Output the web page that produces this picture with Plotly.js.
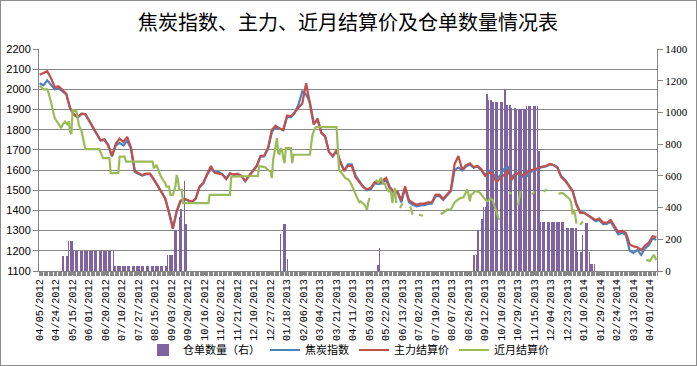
<!DOCTYPE html>
<html>
<head>
<meta charset="utf-8">
<script src="https://cdn.plot.ly/plotly-3.0.1.min.js"></script>
<style>
  html, body { margin: 0; padding: 0; background: #fff; }
  #wrap { position: relative; width: 697px; height: 366px; }
  #chart { width: 697px; height: 366px; }
  #frame { position: absolute; left: 0; top: 0; width: 695px; height: 364px; border: 1px solid #8c8c8c; pointer-events: none; }
</style>
</head>
<body>
<div id="wrap"><div id="chart"></div><div id="frame"></div></div>
<script>
// ---- Data (trading-day based category axis) ----
const chartTitle = '焦炭指数、主力、近月结算价及仓单数量情况表';
const seriesNames = ['仓单数量（右）', '焦炭指数', '主力结算价', '近月结算价'];

// x-axis labels, one every 13 trading days
const tickLabels = ['04/05/2012','04/24/2012','05/15/2012','06/01/2012','06/20/2012','07/10/2012','07/27/2012',
  '08/15/2012','09/03/2012','09/20/2012','10/16/2012','11/02/2012','11/21/2012','12/10/2012','12/27/2012',
  '01/18/2013','02/06/2013','03/04/2013','03/21/2013','04/11/2013','05/03/2013','05/22/2013','06/13/2013',
  '07/02/2013','07/19/2013','08/07/2013','08/26/2013','09/12/2013','10/10/2013','10/29/2013','11/15/2013',
  '12/04/2013','12/23/2013','01/10/2014','01/29/2014','02/24/2014','03/13/2014','04/01/2014'];
const labelEvery = 13;     // trading days between labels
const totalDays = 487;     // trading days on the axis
const sampleEvery = 3;     // price series read every 3 trading days

// 主力结算价 (every 3rd trading day)
const mainPrice = [
  2073,2082,2090,2055,2010,2015,1995,1978,1908,1876,
  1863,1880,1878,1845,1815,1782,1748,1753,1725,1670,
  1730,1756,1740,1765,1712,1595,1583,1575,1582,1582,
  1555,1525,1493,1460,1390,1310,1397,1448,1458,1452,
  1443,1460,1518,1537,1583,1620,1587,1584,1578,1555,
  1584,1578,1582,1572,1545,1572,1598,1620,1670,1672,
  1710,1800,1820,1806,1800,1870,1866,1886,1905,1930,
  2030,1930,1826,1855,1786,1768,1690,1670,1698,1640,
  1595,1622,1620,1565,1537,1515,1505,1512,1540,1538,
  1545,1562,1515,1494,1495,1450,1520,1452,1438,1428,
  1434,1434,1440,1440,1477,1478,1458,1480,1500,1630,
  1670,1601,1625,1634,1615,1620,1605,1572,1590,1582,
  1540,1562,1576,1598,1552,1580,1586,1572,1585,1600,
  1603,1612,1618,1620,1631,1625,1612,1565,1548,1522,
  1495,1428,1388,1388,1375,1365,1353,1360,1340,1340,
  1352,1322,1293,1300,1288,1232,1222,1218,1203,1226,
  1240,1272,1268];

// 焦炭指数 (every 3rd trading day)
const cokeIndex = [
  2030,2020,2045,2020,2000,2005,1990,1975,1905,1874,
  1860,1878,1876,1843,1812,1780,1746,1750,1722,1668,
  1722,1735,1722,1745,1705,1592,1580,1573,1580,1580,
  1553,1523,1491,1458,1388,1310,1395,1445,1456,1450,
  1442,1458,1515,1535,1578,1605,1590,1590,1580,1558,
  1582,1576,1580,1570,1545,1570,1596,1618,1665,1668,
  1705,1790,1815,1806,1798,1865,1862,1882,1925,1990,
  1975,1935,1830,1850,1784,1765,1690,1668,1695,1640,
  1598,1628,1628,1572,1542,1518,1500,1505,1535,1530,
  1535,1552,1508,1485,1488,1440,1510,1442,1428,1420,
  1425,1426,1432,1433,1470,1472,1452,1475,1495,1600,
  1612,1598,1618,1628,1612,1618,1600,1575,1598,1588,
  1555,1575,1605,1615,1565,1585,1582,1565,1570,1592,
  1600,1610,1615,1618,1628,1625,1615,1570,1552,1525,
  1498,1432,1392,1390,1375,1360,1348,1352,1332,1333,
  1345,1312,1282,1290,1278,1200,1190,1205,1180,1212,
  1228,1262,1255];

// 近月结算价: trading-day index and price (null = no quote)
const nearDays = [
  0,3,6,7,9,11,12,14,16,17,
  18,20,22,23,24,25,26,28,29,30,
  31,33,35,36,47,48,50,55,56,62,
  63,67,68,89,90,92,93,95,97,99,
  100,102,103,105,107,108,109,110,112,113,
  133,134,150,151,172,173,175,178,180,182,
  183,184,186,187,188,189,190,191,192,193,
  194,198,199,200,213,214,215,217,218,234,
  235,236,237,239,241,243,244,246,248,250,
  252,253,256,258,259,260,261,265,267,269,
  271,272,273,275,276,277,278,279,280,281,
  282,284,286,287,292,294,295,299,302,303,
  316,319,321,324,327,331,334,336,337,338,
  339,340,341,343,345,347,349,351,353,355,
  357,358,359,360,362,363,370,372,373,377,
  379,380,388,390,391,397,400,401,409,412,
  414,416,418,419,420,421,422,423,424,426,
  428,429,478,481,484,485,486];
const nearPrice = [
  2018,2000,2000,1983,1935,1870,1855,1838,1820,1808,
  1824,1840,1824,1842,1791,1778,1898,1891,1891,1860,
  1820,1795,1730,1704,1704,1690,1659,1659,1585,1585,
  1667,1667,1642,1642,1609,1626,1609,1576,1552,1535,
  1518,1518,1477,1477,1520,1576,1552,1502,1502,1436,
  1436,1477,1477,1568,1571,1618,1618,1613,1600,1593,
  1560,1651,1720,1758,1684,1680,1709,1700,1659,1634,
  1709,1709,1634,1676,1676,1734,1775,1808,1813,1813,
  1680,1600,1593,1576,1560,1555,1548,1525,1490,1465,
  1440,1445,1429,1404,1440,1462,null,1553,1537,1562,
  1529,1537,1512,1495,1500,1487,1437,1479,1512,1437,
  null,1412,1437,null,1421,1379,null,1379,1374,null,
  1382,1392,1404,1405,1440,1460,1465,1495,1504,1479,
  1445,1479,1480,1495,1495,1487,1470,1454,1445,1460,
  1450,1429,1412,1396,1354,null,1487,1485,null,1425,
  1497,null,1479,1495,null,1494,1504,null,1483,1487,
  1477,1465,1454,1436,1380,1404,1379,1335,null,1329,
  1346,null,1155,1150,1180,1163,1155];

// 仓单数量 (one value per trading day, right axis)
const receipts = [
  0,0,0,0,0,0,0,0,0,0,0,0,0,0,0,0,0,0,96,96,
  96,96,96,187,187,187,187,125,125,125,125,125,125,125,125,125,125,125,125,125,
  125,125,125,125,125,125,125,125,125,125,125,125,125,125,125,125,125,125,125,34,
  34,34,34,34,34,34,34,34,34,34,34,34,34,34,34,34,34,34,34,34,
  34,34,34,34,34,34,34,34,34,34,34,34,34,34,34,34,34,34,34,34,
  34,104,104,104,104,104,257,257,257,342,342,394,394,530,565,295,295,0,0,0,
  0,0,0,0,0,0,0,0,0,0,0,0,0,0,0,0,0,0,0,0,
  0,0,0,0,0,0,0,0,0,0,0,0,0,0,0,0,0,0,0,0,
  0,0,0,0,0,0,0,0,0,0,0,0,0,0,0,0,0,0,0,0,
  0,0,0,0,0,0,0,0,0,0,236,295,295,295,295,74,0,0,0,0,
  0,0,0,0,0,0,0,0,0,0,0,0,0,0,0,0,0,0,0,0,
  0,0,0,0,0,0,0,0,0,0,0,0,0,0,0,0,0,0,0,0,
  0,0,0,0,0,0,0,0,0,0,0,0,0,0,0,0,0,0,0,0,
  0,0,0,0,0,0,40,40,146,0,0,0,0,0,0,0,0,0,0,0,
  0,0,0,0,0,0,0,0,0,0,0,0,0,0,0,0,0,0,0,0,
  0,0,0,0,0,0,0,0,0,0,0,0,0,0,0,0,0,0,0,0,
  0,0,0,0,0,0,0,0,0,0,0,0,0,0,0,0,0,0,0,0,
  0,0,104,104,104,257,257,257,325,325,405,405,1115,1115,1079,1079,1079,1065,1065,1065,
  1065,1065,1065,1065,1065,1065,1145,1145,1048,1048,1048,1048,1027,1027,1027,1027,1022,1022,1022,1022,
  1020,1020,1020,1020,1041,1041,1041,1041,1041,1041,1041,1041,1041,757,757,306,306,306,306,306,
  306,306,306,306,306,306,306,306,306,306,306,306,306,306,274,274,274,274,274,274,
  274,274,274,274,122,122,122,122,226,226,302,302,302,120,45,45,45,45,0,0,
  0,0,0,0,0,0,0,0,0,0,0,0,0,0,0,0,0,0,0,0,
  0,0,0,0,0,0,0,0,0,0,0,0,0,0,0,0,0,0,0,0,
  0,0,0,0,0,0,0];

// ---- Build ----
const dayIdx = receipts.map((_, i) => i);
const sampleDays = mainPrice.map((_, i) => i * sampleEvery);
const tickDays = tickLabels.map((_, i) => i * labelEvery);

const gridGray = '#868686';
const traces = [
  { type: 'bar', name: seriesNames[0], x: dayIdx, y: receipts, xaxis: 'x', yaxis: 'y',
    width: 0.72, marker: { color: '#8064A2', line: { width: 0 } } },
  { type: 'scatter', mode: 'lines', name: seriesNames[1], x: sampleDays, y: cokeIndex, xaxis: 'x', yaxis: 'y2',
    line: { color: '#4F81BD', width: 2.2 } },
  { type: 'scatter', mode: 'lines', name: seriesNames[2], x: sampleDays, y: mainPrice, xaxis: 'x', yaxis: 'y2',
    line: { color: '#C0504D', width: 2.2 } },
  { type: 'scatter', mode: 'lines', name: seriesNames[3], x: nearDays, y: nearPrice, xaxis: 'x', yaxis: 'y2',
    connectgaps: false, line: { color: '#9BBB59', width: 2.2 } }
];

const layout = {
  width: 697, height: 366,
  margin: { l: 39, r: 40, t: 49, b: 95 },
  paper_bgcolor: '#fff', plot_bgcolor: '#fff',
  showlegend: true,
  bargap: 0,
  title: { text: chartTitle, x: 0.5, xanchor: 'center', xref: 'paper', y: 1 - 23 / 366, yref: 'container', yanchor: 'middle',
    font: { family: 'Noto Sans CJK SC', size: 20, color: '#000' } },
  xaxis: {
    range: [-0.5, totalDays - 0.5], tickmode: 'array', tickvals: tickDays, ticktext: tickLabels,
    tickangle: -90, tickfont: { family: 'Liberation Mono', size: 10.3, color: '#000' },
    ticks: 'outside', ticklen: 3, tickcolor: gridGray,
    minor: { tickmode: 'linear', tick0: -0.5, dtick: 1, ticks: 'outside', ticklen: 4, tickcolor: gridGray, showgrid: false },
    showline: true, linecolor: gridGray, linewidth: 1, showgrid: false, zeroline: false, fixedrange: true
  },
  yaxis: {
    side: 'right', range: [0, 1400], dtick: 200, tick0: 0,
    tickfont: { family: 'Liberation Serif', size: 11, color: '#000' },
    ticks: 'outside', ticklen: 5, tickcolor: gridGray,
    showline: true, linecolor: gridGray, showgrid: false, zeroline: false
  },
  yaxis2: {
    overlaying: 'y', side: 'left', range: [1100, 2200], dtick: 100, tick0: 1100,
    tickfont: { family: 'Liberation Sans', size: 11, color: '#000' },
    ticks: 'outside', ticklen: 5, tickcolor: gridGray,
    showline: true, linecolor: gridGray, showgrid: true, gridcolor: gridGray, gridwidth: 1, zeroline: false
  },
  legend: {
    orientation: 'h', x: 0.5, xanchor: 'center', xref: 'container',
    y: 16 / 366, yref: 'container', yanchor: 'middle',
    font: { family: 'Noto Sans CJK SC', size: 11, color: '#000' }, itemwidth: 30,
    traceorder: 'normal', bgcolor: 'rgba(0,0,0,0)'
  }
};

Plotly.newPlot('chart', traces, layout, { displayModeBar: false, staticPlot: true });
</script>
</body>
</html>
